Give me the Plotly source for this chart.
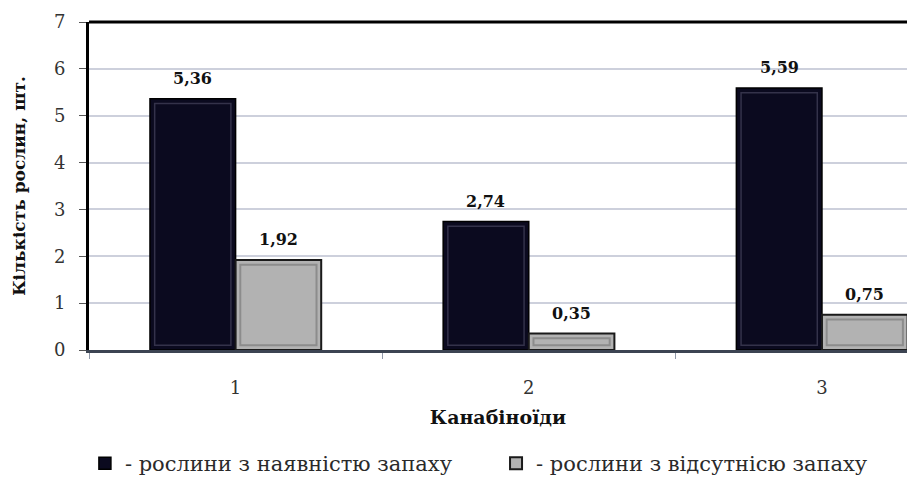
import plotly.graph_objects as go

# ---- data ----
categories = ["1", "2", "3"]
x_pos = [1, 2, 3]
with_smell = [5.36, 2.74, 5.59]
without_smell = [1.92, 0.35, 0.75]
series_names = ["- рослини з наявністю запаху", "- рослини з відсутнісю запаху"]
y_ticks = [0, 1, 2, 3, 4, 5, 6, 7]
x_title = "Канабіноїди"
y_title = "Кількість рослин, шт."

FONT = "DejaVu Serif"
BARGAP = 0.416
W = (1 - BARGAP) / 2          # width of one bar (category units)
INS_X = 0.016                 # bevel inset, category units
INS_Y = 0.10                  # bevel inset, value units

fig = go.Figure()
fig.add_trace(go.Bar(
    x=x_pos, y=with_smell, name=series_names[0], offset=-W, width=W,
    marker=dict(color="#0b0a1f", line=dict(color="#000000", width=1.5)),
    legend="legend",
))
fig.add_trace(go.Bar(
    x=x_pos, y=without_smell, name=series_names[1], offset=0, width=W,
    marker=dict(color="#b2b2b2", line=dict(color="#1a1a1a", width=2)),
    legend="legend2",
))
# inner bevel frames
fig.add_trace(go.Bar(
    x=x_pos, y=[v - 2 * INS_Y for v in with_smell], base=INS_Y,
    offset=-W + INS_X, width=W - 2 * INS_X,
    marker=dict(color="rgba(0,0,0,0)", line=dict(color="#34324a", width=1.5)),
    showlegend=False, hoverinfo="skip",
))
fig.add_trace(go.Bar(
    x=x_pos, y=[v - 2 * INS_Y for v in without_smell], base=INS_Y,
    offset=INS_X, width=W - 2 * INS_X,
    marker=dict(color="rgba(0,0,0,0)", line=dict(color="#8c8c8c", width=2)),
    showlegend=False, hoverinfo="skip",
))

def fmt(v):
    return f"{v:.2f}".replace(".", ",")

annotations = []
for vals, sign in ((with_smell, -1), (without_smell, 1)):
    for xv, v in zip(x_pos, vals):
        annotations.append(dict(
            x=xv + sign * W / 2, y=v, xref="x", yref="y",
            text=fmt(v), showarrow=False, yanchor="bottom", yshift=9,
            font=dict(family=FONT, size=16, color="#111111", weight="bold"),
        ))

legend_common = dict(
    orientation="h", yanchor="middle", xanchor="left", y=-0.347,
    font=dict(family=FONT, size=21, color="#2a2a2a"),
    itemwidth=30, bgcolor="rgba(0,0,0,0)",
)

fig.update_layout(
    width=907, height=484,
    margin=dict(l=89, r=0, t=22, b=131),
    paper_bgcolor="white", plot_bgcolor="white",
    barmode="overlay",
    font=dict(family=FONT, color="#333333"),
    annotations=annotations,
    showlegend=True,
    legend=dict(x=-0.005, **legend_common),
    legend2=dict(x=0.4976, **legend_common),
    shapes=[dict(type="line", xref="paper", yref="paper", x0=0, x1=1, y0=1, y1=1,
                 line=dict(color="#000000", width=3))],
)

fig.update_xaxes(
    range=[0.5, 3.29], tickvals=x_pos, ticktext=categories,
    ticks="", ticklabelstandoff=19, automargin=False,
    tickfont=dict(family=FONT, size=18, color="#333333"),
    showline=True, linecolor="#3c4452", linewidth=3,
    showgrid=False, zeroline=False,
    minor=dict(tick0=0.5, dtick=1, ticks="outside", ticklen=6, tickcolor="#9098a8", tickwidth=1, showgrid=False),
    title=dict(text=x_title, standoff=15, font=dict(family=FONT, size=19, color="#111111", weight="bold")),
)
fig.update_yaxes(
    range=[0, 7], tickvals=y_ticks, ticktext=[str(t) for t in y_ticks],
    ticks="outside", ticklen=7, tickcolor="#555555", tickwidth=1,
    ticklabelstandoff=10, automargin=False,
    tickfont=dict(family=FONT, size=18, color="#333333"),
    showline=True, linecolor="#000000", linewidth=3,
    showgrid=True, gridcolor="#cdd0dc", gridwidth=1.5, zeroline=False,
    title=dict(text=y_title, standoff=24, font=dict(family=FONT, size=17, color="#111111", weight="bold")),
)

fig.write_html("out.html")
